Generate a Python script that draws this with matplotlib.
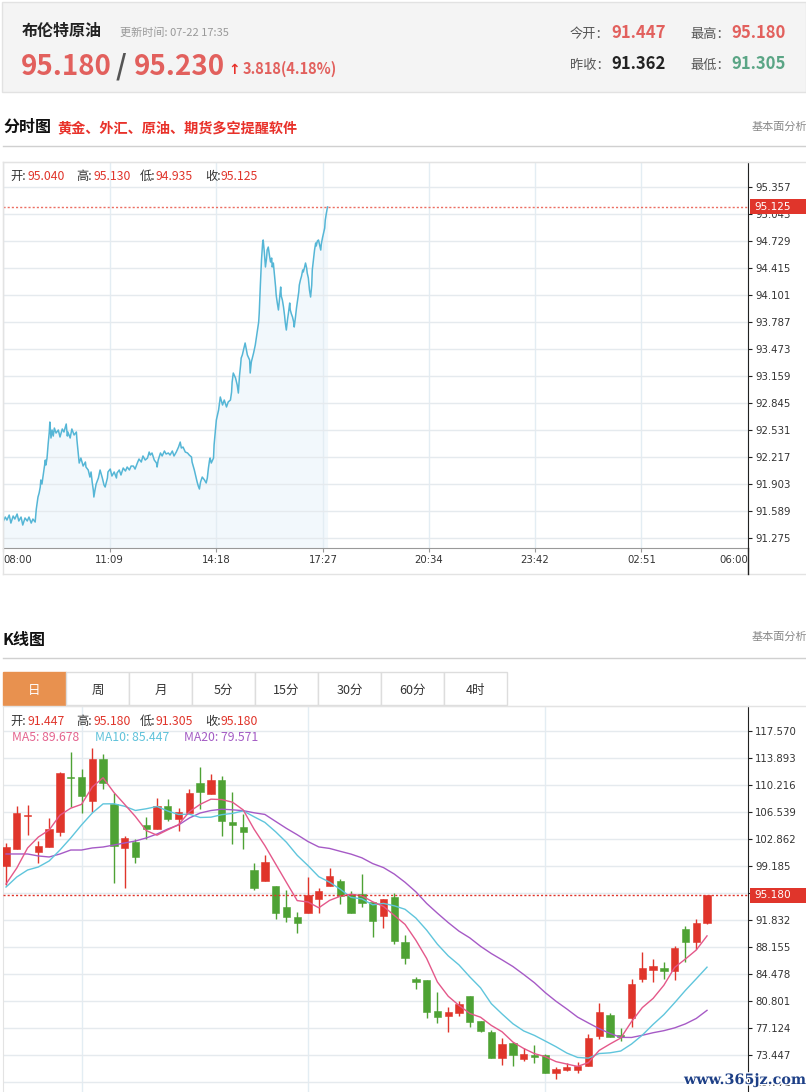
import numpy as np
import pandas as pd
import matplotlib
matplotlib.use("Agg")
import matplotlib.pyplot as plt
from matplotlib.patches import Rectangle
from matplotlib.lines import Line2D
import matplotlib.transforms as mtrans
import matplotlib.patheffects as pe

plt.rcParams['font.family'] = ['Noto Sans CJK SC', 'DejaVu Sans']

W, H = 806, 1092

# ---------------- data ----------------
# intraday (minutes after 08:00, price)
int_minutes = [
    0, 4, 7, 11, 14, 18, 21, 25, 28, 32,
    35, 39, 43, 46, 50, 53, 57, 59, 60, 62,
    64, 66, 67, 69, 71, 73, 75, 76, 78, 80,
    82, 83, 85, 87, 89, 91, 94, 98, 101, 105,
    108, 112, 114, 115, 119, 122, 126, 130, 131, 133,
    135, 138, 142, 146, 147, 151, 154, 156, 158, 160,
    161, 163, 165, 169, 172, 176, 179, 181, 185, 186,
    190, 193, 197, 201, 202, 206, 209, 213, 217, 220,
    224, 227, 231, 234, 238, 241, 245, 248, 252, 256,
    259, 261, 264, 268, 272, 273, 275, 279, 282, 286,
    289, 293, 296, 300, 303, 307, 311, 314, 316, 319,
    323, 327, 330, 334, 335, 339, 341, 344, 346, 348,
    350, 353, 357, 360, 362, 364, 366, 367, 369, 373,
    374, 376, 378, 382, 385, 389, 392, 396, 399, 403,
    405, 406, 408, 412, 415, 417, 419, 421, 422, 424,
    426, 429, 433, 437, 438, 440, 444, 447, 451, 453,
    454, 456, 458, 460, 461, 463, 465, 467, 468, 470,
    472, 474, 476, 477, 479, 481, 483, 484, 486, 488,
    490, 492, 493, 495, 497, 499, 500, 502, 504, 506,
    508, 509, 511, 513, 515, 516, 518, 520, 522, 524,
    525, 527, 529, 531, 532, 534, 536, 538, 539, 541,
    543, 545, 547, 548, 550, 552, 554, 555, 557, 559,
    561, 563, 564, 566, 568, 570, 571, 573, 575]
int_prices = [
    91.461, 91.519, 91.484, 91.542, 91.449, 91.531, 91.496, 91.554, 91.473, 91.519,
    91.426, 91.508, 91.473, 91.519, 91.449, 91.496, 91.461, 91.612, 91.659, 91.752,
    91.798, 91.868, 91.950, 91.903, 91.996, 92.089, 92.182, 92.124, 92.205, 92.368,
    92.508, 92.624, 92.438, 92.531, 92.461, 92.554, 92.496, 92.531, 92.450, 92.543,
    92.508, 92.601, 92.461, 92.508, 92.438, 92.543, 92.473, 92.508, 92.415, 92.275,
    92.147, 92.205, 92.112, 92.159, 92.101, 92.066, 91.984, 92.043, 91.926, 91.833,
    91.752, 91.833, 91.903, 91.973, 92.066, 91.973, 91.891, 91.868, 91.973, 92.043,
    92.077, 91.996, 92.043, 91.973, 92.031, 92.066, 92.008, 92.089, 92.054, 92.101,
    92.066, 92.112, 92.112, 92.077, 92.147, 92.194, 92.159, 92.229, 92.182, 92.205,
    92.275, 92.240, 92.264, 92.182, 92.147, 92.101, 92.182, 92.264, 92.229, 92.287,
    92.252, 92.264, 92.240, 92.287, 92.229, 92.275, 92.333, 92.391, 92.322, 92.333,
    92.275, 92.264, 92.240, 92.217, 92.159, 92.066, 92.008, 91.926, 91.880, 91.845,
    91.926, 91.984, 91.950, 91.915, 91.973, 92.089, 92.182, 92.205, 92.147, 92.205,
    92.357, 92.508, 92.647, 92.764, 92.915, 92.822, 92.880, 92.799, 92.857, 92.880,
    92.973, 93.089, 93.194, 93.136, 93.054, 92.961, 93.159, 93.287, 93.368, 93.403,
    93.461, 93.543, 93.403, 93.345, 93.194, 93.322, 93.427, 93.520, 93.694, 93.787,
    93.892, 94.217, 94.508, 94.706, 94.741, 94.601, 94.427, 94.531, 94.624, 94.659,
    94.566, 94.485, 94.531, 94.427, 94.473, 94.334, 94.194, 94.101, 94.008, 93.927,
    94.066, 94.194, 94.089, 94.043, 93.962, 93.857, 93.787, 93.694, 93.810, 93.903,
    94.008, 93.927, 93.880, 93.845, 93.787, 93.729, 93.834, 93.950, 94.043, 94.136,
    94.217, 94.276, 94.322, 94.392, 94.369, 94.415, 94.473, 94.415, 94.357, 94.299,
    94.159, 94.078, 94.217, 94.392, 94.508, 94.624, 94.706, 94.671, 94.729, 94.741,
    94.683, 94.624, 94.694, 94.764, 94.822, 94.880, 94.973, 95.055, 95.125]

int_yticks = [95.357, 95.043, 94.729, 94.415, 94.101, 93.787, 93.473, 93.159,
              92.845, 92.531, 92.217, 91.903, 91.589, 91.275]
int_xticks = [0, 189, 378, 567, 754, 942, 1131, 1320]
int_xlabels = ['08:00', '11:09', '14:18', '17:27', '20:34', '23:42', '02:51', '06:00']
int_last = 95.125
int_ohlc = ['95.040', '95.130', '94.935', '95.125']

# daily candles
opens = [99.18, 101.50, 106.05, 101.09, 101.77, 103.82, 111.20, 111.31, 108.04, 113.76,
         107.63, 101.64, 102.45, 104.77, 104.22, 107.36, 105.59, 106.40, 110.49, 108.99,
         110.90, 105.18, 104.50, 98.64, 97.14, 96.46, 93.60, 92.24, 92.78, 94.69,
         96.46, 97.14, 95.37, 95.37, 94.28, 92.38, 94.96, 88.83, 83.80, 83.66,
         79.44, 78.76, 79.16, 81.48, 78.08, 76.58, 73.04, 75.08, 72.90, 73.44,
         73.44, 70.99, 71.40, 71.40, 71.95, 76.03, 78.89, 76.17, 78.48, 83.80,
         85.02, 85.29, 84.88, 90.60, 88.83, 91.447]
highs = [102.32, 107.36, 107.49, 102.59, 105.72, 111.99, 114.71, 112.40, 115.26, 114.44,
         109.13, 103.27, 102.86, 105.86, 108.45, 108.31, 107.08, 109.67, 112.67, 111.71,
         111.44, 109.26, 106.27, 99.59, 100.68, 96.46, 95.92, 92.92, 97.69, 96.19,
         98.91, 97.41, 95.78, 98.10, 94.28, 94.69, 95.51, 89.79, 84.07, 83.66,
         82.02, 79.98, 80.80, 81.48, 78.08, 76.85, 75.76, 75.17, 74.40, 74.81,
         73.58, 71.81, 72.36, 72.49, 76.31, 80.53, 79.16, 77.12, 83.80, 87.47,
         86.52, 86.11, 88.29, 91.01, 91.97, 95.18]
lows = [96.60, 101.50, 103.41, 99.59, 101.77, 103.27, 107.22, 106.40, 106.54, 109.67,
        96.87, 96.19, 99.59, 102.86, 104.22, 105.31, 103.95, 106.40, 106.95, 108.99,
        103.27, 102.18, 101.50, 95.92, 97.14, 91.97, 91.56, 90.06, 92.78, 92.78,
        96.46, 94.01, 92.78, 93.60, 89.52, 90.74, 88.56, 85.84, 82.43, 78.48,
        77.80, 76.58, 78.76, 77.26, 76.58, 73.04, 72.08, 71.95, 72.63, 72.36,
        70.99, 70.18, 71.27, 70.99, 71.95, 75.62, 75.90, 75.35, 77.26, 83.39,
        83.39, 83.80, 83.66, 86.11, 87.88, 91.305]
closes = [101.77, 106.40, 106.13, 101.91, 104.22, 111.85, 111.17, 108.72, 113.76, 110.49,
          101.91, 103.00, 100.41, 104.22, 107.36, 105.59, 106.54, 109.13, 109.26, 110.90,
          105.31, 104.77, 103.82, 96.19, 99.73, 92.78, 92.24, 91.42, 95.24, 95.78,
          97.82, 95.10, 92.78, 94.15, 91.69, 94.69, 88.97, 86.66, 83.39, 79.30,
          78.62, 79.30, 80.39, 77.94, 76.71, 73.04, 74.94, 73.44, 73.58, 73.17,
          70.99, 71.54, 71.81, 71.95, 75.76, 79.30, 75.90, 75.90, 83.11, 85.29,
          85.57, 84.88, 88.02, 88.83, 91.42, 95.18]
# MA values of the first days (their earlier closes are off-screen)
ma5_head = [96.73, 98.91, 101.64, 103.13]
ma10_head = [96.32, 97.69, 98.64, 99.05, 99.87, 101.36, 103.00, 104.77, 106.40]
ma20_head = [100.82, 100.82, 100.82, 100.55, 100.41, 100.82, 101.36, 101.36, 101.64, 101.77,
             102.04, 102.32, 102.59, 103.00, 103.54, 104.22, 104.77, 105.72, 106.40]
ma_labels = ['MA5: 89.678', 'MA10: 85.447', 'MA20: 79.571']
k_ohlc = ['91.447', '95.180', '91.305', '95.180']
k_yticks = [117.570, 113.893, 110.216, 106.539, 102.862, 99.185, 95.508, 91.832,
            88.155, 84.478, 80.801, 77.124, 73.447, 69.771]
month_starts = [7, 28, 50]
k_last = 95.180

tabs = ['日', '周', '月', '5分', '15分', '30分', '60分', '4时']

RED = '#e0352b'
GREEN = '#4ea234'
NUMRED = '#e2605d'
TXT = '#333333'

# ---------------- figure ----------------
fig = plt.figure(figsize=(W / 100, H / 100), dpi=100)
fig.patch.set_facecolor('white')


def fx(x):
    return x / W


def fy(y):
    return 1 - y / H


def txt(x, y, s, **kw):
    kw.setdefault('va', 'baseline')
    return fig.text(fx(x), fy(y), s, **kw)


def hline(y, x0, x1, color, lw=1.0):
    fig.add_artist(Line2D([fx(x0), fx(x1)], [fy(y), fy(y)], color=color, lw=lw))


def vline(x, y0, y1, color, lw=1.0):
    fig.add_artist(Line2D([fx(x), fx(x)], [fy(y0), fy(y1)], color=color, lw=lw))


# header box
fig.add_artist(Rectangle((fx(2), fy(92)), 804 / W, 90 / H, transform=fig.transFigure,
                         facecolor='#f4f4f4', edgecolor='#e2e2e2', lw=1))
txt(22, 36, '布伦特原油', fontsize=11.5, fontweight='bold', color='#222222')
txt(120, 36, '更新时间: 07-22 17:35', fontsize=8, color='#999999')
txt(21, 75, '95.180', fontsize=20, fontweight='bold', color=NUMRED)
txt(116, 75, '/', fontsize=20, fontweight='bold', color='#555555')
txt(134, 75, '95.230', fontsize=20, fontweight='bold', color=NUMRED)
txt(228, 74, '↑', fontsize=10, fontweight='bold', color='#e8312a', family='DejaVu Sans')
txt(243, 74, '3.818(4.18%)', fontsize=10.5, fontweight='bold', color=NUMRED)

txt(570, 38, '今开：', fontsize=9.5, color='#555555')
txt(611, 38, '91.447', fontsize=12, fontweight='bold', color=NUMRED)
txt(690, 38, '最高：', fontsize=9.5, color='#555555')
txt(731, 38, '95.180', fontsize=12, fontweight='bold', color=NUMRED)
txt(570, 69, '昨收：', fontsize=9.5, color='#555555')
txt(611, 69, '91.362', fontsize=12, fontweight='bold', color='#222222')
txt(690, 69, '最低：', fontsize=9.5, color='#555555')
txt(731, 69, '91.305', fontsize=12, fontweight='bold', color='#5aa585')

# intraday section title
txt(3, 132, '分时图', fontsize=11.5, fontweight='bold', color='#111111')
txt(57, 132, '黄金、外汇、原油、期货多空提醒软件', fontsize=10.2, fontweight='bold', color='#e8312a')
txt(752, 130, '基本面分析', fontsize=8, color='#888888')
hline(146, 3, 806, '#d0d0d0')

# frame of intraday block
hline(162, 3, 806, '#e3e3e3')
hline(574, 3, 806, '#e3e3e3')
vline(3, 162, 574, '#e3e3e3')
vline(748, 548, 574, '#222222')

ax1 = fig.add_axes([fx(3), fy(548), 745 / W, 386 / H])
ax1.set_xlim(0, 1320)
ax1.set_ylim(91.159, 95.648)
ax1.fill_between(int_minutes, int_prices, 91.159, color='#f2f8fc', lw=0, zorder=1)
ax1.plot(int_minutes, int_prices, color='#55b6d6', lw=1.1, zorder=3)
ax1.axhline(int_last, color='#ec6f63', lw=1, ls=(0, (1.5, 1.5)), zorder=4)
ax1.set_yticks(int_yticks)
ax1.set_yticklabels(['%.3f' % v for v in int_yticks])
ax1.yaxis.tick_right()
ax1.set_xticks(int_xticks)
ax1.set_xticklabels(int_xlabels)
ax1.grid(axis='y', color='#e5eaee', lw=1, zorder=0)
ax1.grid(axis='x', color='#e3edf3', lw=1, zorder=0)
ax1.tick_params(axis='y', length=3, color='#222222', labelsize=7.3, pad=2,
                labelcolor=TXT, labelfontfamily='DejaVu Sans')
ax1.tick_params(axis='x', length=3, color='#999999', labelsize=7.3, pad=2,
                labelcolor=TXT, labelfontfamily='DejaVu Sans')
xl = ax1.get_xticklabels()
xl[0].set_ha('left')
xl[-1].set_ha('right')
for s in ['left', 'top']:
    ax1.spines[s].set_color('#e3e3e3')
ax1.spines['bottom'].set_color('#999999')
ax1.spines['right'].set_color('#222222')

bt = mtrans.blended_transform_factory(ax1.transAxes, ax1.transData)
ax1.add_patch(Rectangle((1.0025, int_last - 0.087), 56 / 745, 0.174, transform=bt,
                        facecolor=RED, edgecolor='none', clip_on=False, zorder=10))
ax1.text(1.009, int_last, '%.3f' % int_last, transform=bt, color='white', fontsize=7.6,
         va='center', ha='left', family='DejaVu Sans', zorder=11, clip_on=False)

# intraday legend
for x, s, c in [(10, '开:', TXT), (28, int_ohlc[0], RED), (76, '高:', TXT), (93, int_ohlc[1], RED),
                (140, '低:', TXT), (156, int_ohlc[2], RED), (205, '收:', TXT), (221, int_ohlc[3], RED)]:
    txt(x, 180, s, fontsize=8.8, color=c)

# K line section
txt(3, 645, 'K线图', fontsize=11.5, fontweight='bold', color='#111111')
txt(752, 640, '基本面分析', fontsize=8, color='#888888')
hline(658, 3, 806, '#d0d0d0')

tab_w = 63
for i, name in enumerate(tabs):
    x0 = 3 + i * tab_w
    fig.add_artist(Rectangle((fx(x0), fy(705)), tab_w / W, 33 / H, transform=fig.transFigure,
                             facecolor='#e8914f' if i == 0 else 'white',
                             edgecolor='#e8914f' if i == 0 else '#dddddd', lw=1))
    txt(x0 + tab_w / 2, 694, name, fontsize=9, ha='center',
        color='white' if i == 0 else TXT)

hline(706, 3, 806, '#e3e3e3')

ax2 = fig.add_axes([fx(3), 0, 745 / W, (1092 - 706) / H])
ax2.set_xlim(-0.28, 68.8)
ax2.set_ylim(68.41, 120.97)
ax2.set_yticks(k_yticks)
ax2.set_yticklabels(['%.3f' % v for v in k_yticks])
ax2.yaxis.tick_right()
ax2.set_xticks(month_starts)
ax2.grid(axis='y', color='#e5eaee', lw=1, zorder=0)
ax2.grid(axis='x', color='#e3edf3', lw=1, zorder=0)
ax2.tick_params(axis='x', length=0, labelbottom=False)
ax2.tick_params(axis='y', length=3, color='#222222', labelsize=7.3, pad=2,
                labelcolor=TXT, labelfontfamily='DejaVu Sans')
for s in ['left', 'top']:
    ax2.spines[s].set_color('#e3e3e3')
ax2.spines['bottom'].set_visible(False)
ax2.spines['right'].set_color('#222222')

xs = np.arange(len(closes))
for i in xs:
    o, h, l, c = opens[i], highs[i], lows[i], closes[i]
    col = RED if c >= o else GREEN
    ax2.vlines(i, l, h, color=col, lw=1, zorder=3)
    ax2.add_patch(Rectangle((i - 0.34, min(o, c)), 0.68, max(abs(c - o), 0.14),
                            facecolor=col, edgecolor=col, lw=0.4, zorder=4))

cs = pd.Series(closes)
ma5 = cs.rolling(5).mean().to_numpy()
ma10 = cs.rolling(10).mean().to_numpy()
ma20 = cs.rolling(20).mean().to_numpy()
ma5[:4] = ma5_head
ma10[:9] = ma10_head
ma20[:19] = ma20_head
ax2.plot(xs, ma20, color='#a65ac6', lw=1, zorder=5)
ax2.plot(xs, ma10, color='#5fc5dc', lw=1, zorder=5)
ax2.plot(xs, ma5, color='#e4588a', lw=1, zorder=5)

ax2.axhline(k_last, color='#e0352b', lw=1, ls=(0, (1.5, 1.5)), zorder=6)
bt2 = mtrans.blended_transform_factory(ax2.transAxes, ax2.transData)
ax2.add_patch(Rectangle((1.0025, k_last - 1.02), 56 / 745, 2.04, transform=bt2,
                        facecolor=RED, edgecolor='none', clip_on=False, zorder=10))
ax2.text(1.009, k_last, '%.3f' % k_last, transform=bt2, color='white', fontsize=7.6,
         va='center', ha='left', family='DejaVu Sans', zorder=11, clip_on=False)

# K legend
for x, s, c in [(10, '开:', TXT), (28, k_ohlc[0], RED), (76, '高:', TXT), (93, k_ohlc[1], RED),
                (140, '低:', TXT), (156, k_ohlc[2], RED), (205, '收:', TXT), (221, k_ohlc[3], RED)]:
    txt(x, 725, s, fontsize=8.8, color=c)
txt(12, 741, ma_labels[0], fontsize=8.8, color='#e4648f')
txt(95, 741, ma_labels[1], fontsize=8.8, color='#5fc2da')
txt(184, 741, ma_labels[2], fontsize=8.8, color='#a35bc4')

# watermark
txt(684, 1084, 'www.365jz.com', fontsize=10.3, fontweight='bold', color='#1d3f86',
    family='DejaVu Serif', path_effects=[pe.withStroke(linewidth=2, foreground='white')])

fig.savefig('out.png', dpi=100)
